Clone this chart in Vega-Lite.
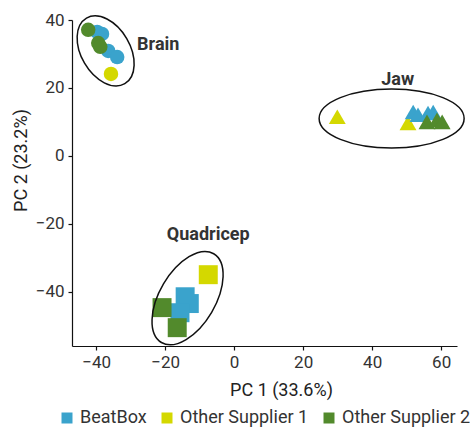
{
  "$schema": "https://vega.github.io/schema/vega-lite/v6.json",
  "width": 385,
  "height": 326,
  "autosize": {"type": "none"},
  "padding": {"left": 72, "top": 20, "right": 13, "bottom": 82},
  "background": "white",
  "config": {
    "font": "Roboto",
    "view": {"stroke": null},
    "axis": {
      "grid": false,
      "domainColor": "#111",
      "domainWidth": 1.2,
      "tickColor": "#111",
      "tickWidth": 1.2,
      "tickSize": 4,
      "labelFontSize": 17,
      "labelColor": "#333",
      "labelPadding": 4,
      "titleFontSize": 18,
      "titleFontWeight": "normal",
      "titleColor": "#222"
    },
    "legend": {
      "orient": "none",
      "legendX": -14,
      "legendY": 389,
      "direction": "horizontal",
      "symbolType": "square",
      "symbolSize": 121,
      "symbolStrokeWidth": 0,
      "symbolOpacity": 1,
      "labelFontSize": 18,
      "labelColor": "#333",
      "labelOffset": 4,
      "columnPadding": 11,
      "padding": 0
    }
  },
  "datasets": {
    "points": [
      {"tissue": "Brain", "supplier": "Other Supplier 1", "pc1": -35.7, "pc2": 24.1},
      {"tissue": "Jaw", "supplier": "Other Supplier 1", "pc1": 29.9, "pc2": 11.5},
      {"tissue": "Jaw", "supplier": "Other Supplier 1", "pc1": 50.4, "pc2": 9.7},
      {"tissue": "Quadricep", "supplier": "Other Supplier 1", "pc1": -7.5, "pc2": -35.0},
      {"tissue": "Brain", "supplier": "BeatBox", "pc1": -39.7, "pc2": 36.5},
      {"tissue": "Brain", "supplier": "BeatBox", "pc1": -38.3, "pc2": 35.9},
      {"tissue": "Brain", "supplier": "BeatBox", "pc1": -36.5, "pc2": 30.9},
      {"tissue": "Brain", "supplier": "BeatBox", "pc1": -33.9, "pc2": 29.1},
      {"tissue": "Jaw", "supplier": "BeatBox", "pc1": 51.9, "pc2": 12.9},
      {"tissue": "Jaw", "supplier": "BeatBox", "pc1": 53.3, "pc2": 12.1},
      {"tissue": "Jaw", "supplier": "BeatBox", "pc1": 56.2, "pc2": 12.6},
      {"tissue": "Jaw", "supplier": "BeatBox", "pc1": 57.7, "pc2": 12.9},
      {"tissue": "Quadricep", "supplier": "BeatBox", "pc1": -14.2, "pc2": -41.5},
      {"tissue": "Quadricep", "supplier": "BeatBox", "pc1": -13.0, "pc2": -43.5},
      {"tissue": "Quadricep", "supplier": "BeatBox", "pc1": -15.7, "pc2": -46.2},
      {"tissue": "Brain", "supplier": "Other Supplier 2", "pc1": -42.3, "pc2": 37.1},
      {"tissue": "Brain", "supplier": "Other Supplier 2", "pc1": -39.4, "pc2": 33.2},
      {"tissue": "Brain", "supplier": "Other Supplier 2", "pc1": -38.8, "pc2": 32.1},
      {"tissue": "Jaw", "supplier": "Other Supplier 2", "pc1": 55.9, "pc2": 10.0},
      {"tissue": "Jaw", "supplier": "Other Supplier 2", "pc1": 58.8, "pc2": 10.6},
      {"tissue": "Jaw", "supplier": "Other Supplier 2", "pc1": 60.3, "pc2": 10.0},
      {"tissue": "Quadricep", "supplier": "Other Supplier 2", "pc1": -20.9, "pc2": -44.7},
      {"tissue": "Quadricep", "supplier": "Other Supplier 2", "pc1": -16.5, "pc2": -50.6}
    ],
    "groups": [
      {"tissue": "Brain", "pc1": -37.25, "pc2": 30.9},
      {"tissue": "Jaw", "pc1": 45.65, "pc2": 11.0},
      {"tissue": "Quadricep", "pc1": -13.5, "pc2": -41.9}
    ],
    "labels": [
      {"tissue": "Brain", "pc1": -22.0, "pc2": 31.2},
      {"tissue": "Jaw", "pc1": 47.4, "pc2": 20.9},
      {"tissue": "Quadricep", "pc1": -7.5, "pc2": -24.7}
    ]
  },
  "encoding": {
    "x": {
      "field": "pc1",
      "type": "quantitative",
      "scale": {"domain": [-47, 64.6], "nice": false, "zero": false},
      "axis": {
        "title": "PC 1 (33.6%)",
        "values": [-40, -20, 0, 20, 40, 60],
        "titleX": 209,
        "titleY": 49,
        "titleBaseline": "alphabetic"
      }
    },
    "y": {
      "field": "pc2",
      "type": "quantitative",
      "scale": {"domain": [-56, 40], "nice": false, "zero": false},
      "axis": {
        "title": "PC 2 (23.2%)",
        "values": [-40, -20, 0, 20, 40],
        "titleX": -46,
        "titleY": 140,
        "titleBaseline": "alphabetic"
      }
    }
  },
  "layer": [
    {
      "data": {"name": "points"},
      "mark": {"type": "point", "filled": true, "opacity": 1, "strokeWidth": 0},
      "encoding": {
        "color": {
          "field": "supplier",
          "type": "nominal",
          "scale": {
            "domain": ["BeatBox", "Other Supplier 1", "Other Supplier 2"],
            "range": ["#3aa3cc", "#d4d800", "#528a2c"]
          },
          "legend": {"title": null}
        },
        "shape": {
          "field": "tissue",
          "type": "nominal",
          "scale": {"domain": ["Brain", "Jaw", "Quadricep"], "range": ["circle", "triangle-up", "square"]},
          "legend": null
        },
        "size": {
          "field": "tissue",
          "type": "ordinal",
          "scale": {"domain": ["Brain", "Jaw", "Quadricep"], "range": [210, 360, 225]},
          "legend": null
        }
      }
    },
    {
      "data": {"name": "groups"},
      "transform": [{"filter": "datum.tissue === 'Brain'"}],
      "mark": {
        "type": "point",
        "filled": false,
        "color": "#111",
        "opacity": 1,
        "strokeWidth": 1.5,
        "size": 5776,
        "angle": 59.7,
        "shape": "M1,0C1,0.355,0.552,0.643,0,0.643C-0.552,0.643,-1,0.355,-1,0C-1,-0.355,-0.552,-0.643,0,-0.643C0.552,-0.643,1,-0.355,1,0Z"
      }
    },
    {
      "data": {"name": "groups"},
      "transform": [{"filter": "datum.tissue === 'Jaw'"}],
      "mark": {
        "type": "point",
        "filled": false,
        "color": "#111",
        "opacity": 1,
        "strokeWidth": 1.5,
        "size": 21025,
        "angle": 0,
        "shape": "M1,0C1,0.225,0.552,0.407,0,0.407C-0.552,0.407,-1,0.225,-1,0C-1,-0.225,-0.552,-0.407,0,-0.407C0.552,-0.407,1,-0.225,1,0Z"
      }
    },
    {
      "data": {"name": "groups"},
      "transform": [{"filter": "datum.tissue === 'Quadricep'"}],
      "mark": {
        "type": "point",
        "filled": false,
        "color": "#111",
        "opacity": 1,
        "strokeWidth": 1.5,
        "size": 10609,
        "angle": 300.5,
        "shape": "M1,0C1,0.3,0.552,0.543,0,0.543C-0.552,0.543,-1,0.3,-1,0C-1,-0.3,-0.552,-0.543,0,-0.543C0.552,-0.543,1,-0.3,1,0Z"
      }
    },
    {
      "data": {"name": "labels"},
      "mark": {
        "type": "text",
        "fontSize": 18,
        "fontWeight": "bold",
        "color": "#333",
        "align": "center",
        "baseline": "alphabetic"
      },
      "encoding": {"text": {"field": "tissue", "type": "nominal"}}
    }
  ]
}
